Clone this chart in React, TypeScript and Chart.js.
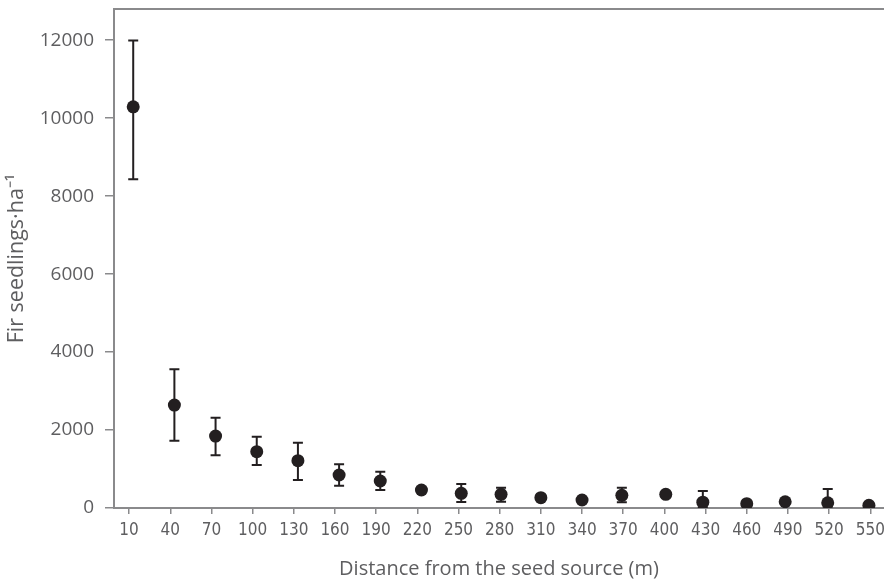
import React, { useEffect, useRef } from "react";
import { Chart, registerables } from "chart.js";

Chart.register(...registerables);

const distanceTicks = [10, 40, 70, 100, 130, 160, 190, 220, 250, 280, 310, 340, 370, 400, 430, 460, 490, 520, 550];
const distances = [13, 43, 73, 103, 133, 163, 193, 223, 252, 281, 310, 340, 369, 401, 428, 460, 488, 519, 549];
const meanSeedlings = [10290, 2640, 1846, 1444, 1214, 846, 692, 462, 376, 350, 265, 205, 325, 350, 150, 110, 160, 135, 70];
const upperSeedlings = [11990, 3560, 2316, 1829, 1675, 1120, 932, 530, 615, 521, 320, 260, 521, 420, 435, 150, 210, 487, 100];
const lowerSeedlings = [8430, 1726, 1351, 1103, 718, 573, 462, 400, 154, 160, 210, 150, 145, 290, 20, 60, 110, 30, 20];
const yTickValues = [0, 2000, 4000, 6000, 8000, 10000, 12000];

const AXIS_GRAY = "#8a8a8c";
const TEXT_GRAY = "#5e5e60";
const MARK = "#231f20";

const errorBarPlugin = {
  id: "errorBars",
  beforeDatasetsDraw(chart: any) {
    const { ctx, chartArea, scales } = chart;
    const xs = scales.x;
    const ys = scales.y;
    ctx.save();
    ctx.beginPath();
    ctx.rect(chartArea.left, chartArea.top, chartArea.right - chartArea.left, chartArea.bottom - chartArea.top);
    ctx.clip();
    ctx.strokeStyle = MARK;
    ctx.lineWidth = 2;
    const cap = 5;
    distances.forEach((d, i) => {
      const px = xs.getPixelForValue(d);
      const top = ys.getPixelForValue(upperSeedlings[i]);
      const bot = ys.getPixelForValue(lowerSeedlings[i]);
      ctx.beginPath();
      ctx.moveTo(px, top);
      ctx.lineTo(px, bot);
      ctx.moveTo(px - cap, top);
      ctx.lineTo(px + cap, top);
      ctx.moveTo(px - cap, bot);
      ctx.lineTo(px + cap, bot);
      ctx.stroke();
    });
    ctx.restore();
  },
};

const topBorderPlugin = {
  id: "topBorder",
  afterDraw(chart: any) {
    const { ctx, chartArea } = chart;
    ctx.save();
    ctx.strokeStyle = AXIS_GRAY;
    ctx.lineWidth = 2;
    ctx.beginPath();
    ctx.moveTo(chartArea.left - 1, chartArea.top);
    ctx.lineTo(chartArea.right, chartArea.top);
    ctx.stroke();
    ctx.restore();
  },
};

export default function App() {
  const canvasRef = useRef<HTMLCanvasElement | null>(null);

  useEffect(() => {
    if (!canvasRef.current) return;
    const chart = new Chart(canvasRef.current, {
      type: "scatter",
      data: {
        datasets: [
          {
            data: distances.map((d, i) => ({ x: d, y: meanSeedlings[i] })),
            backgroundColor: MARK,
            borderColor: MARK,
            pointRadius: 6.5,
            pointHoverRadius: 6.5,
            borderWidth: 0,
            clip: 0,
          } as any,
        ],
      },
      options: {
        animation: false,
        responsive: false,
        layout: { autoPadding: false, padding: { top: 9, left: 0, right: 0, bottom: 0 } },
        plugins: {
          legend: { display: false },
          tooltip: { enabled: false },
        },
        scales: {
          x: {
            type: "linear",
            min: -1,
            max: 560,
            afterBuildTicks: (scale: any) => {
              scale.ticks = distanceTicks.map((v) => ({ value: v }));
            },
            afterFit: (scale: any) => {
              scale.height = 73;
              scale.paddingLeft = 0;
              scale.paddingRight = 0;
            },
            grid: {
              drawOnChartArea: false,
              drawTicks: true,
              tickLength: 6,
              color: AXIS_GRAY,
              lineWidth: 1.5,
            },
            border: { display: true, color: AXIS_GRAY, width: 2 },
            ticks: {
              autoSkip: false,
              maxRotation: 0,
              padding: 6,
              color: TEXT_GRAY,
              font: { family: "'Liberation Sans Narrow', 'DejaVu Sans Condensed', 'Open Sans'", size: 17 },
              callback: (v: any) => String(v),
            },
            title: {
              display: true,
              text: "Distance from the seed source (m)",
              color: TEXT_GRAY,
              font: { family: "'Open Sans'", size: 20 },
              padding: { top: 0, bottom: 0 },
            },
          },
          y: {
            type: "linear",
            min: 0,
            max: 12800,
            afterBuildTicks: (scale: any) => {
              scale.ticks = yTickValues.map((v) => ({ value: v }));
            },
            afterFit: (scale: any) => {
              scale.width = 114;
              scale.paddingTop = 0;
              scale.paddingBottom = 0;
            },
            grid: {
              drawOnChartArea: false,
              drawTicks: true,
              tickLength: 9,
              color: AXIS_GRAY,
              lineWidth: 1.5,
            },
            border: { display: true, color: AXIS_GRAY, width: 2 },
            ticks: {
              padding: 11,
              color: TEXT_GRAY,
              font: { family: "'Open Sans'", size: 19 },
              callback: (v: any) => String(v),
            },
            title: {
              display: true,
              text: "Fir seedlings·ha⁻¹",
              color: TEXT_GRAY,
              font: { family: "'Open Sans'", size: 21.5 },
              padding: { top: 4, bottom: 0 },
            },
          },
        },
      },
      plugins: [errorBarPlugin, topBorderPlugin],
    });
    return () => chart.destroy();
  }, []);

  return (
    <div style={{ position: "absolute", left: 0, top: 0, width: 884, height: 581 }}>
      <canvas ref={canvasRef} width={884} height={581} style={{ display: "block" }} />
    </div>
  );
}
